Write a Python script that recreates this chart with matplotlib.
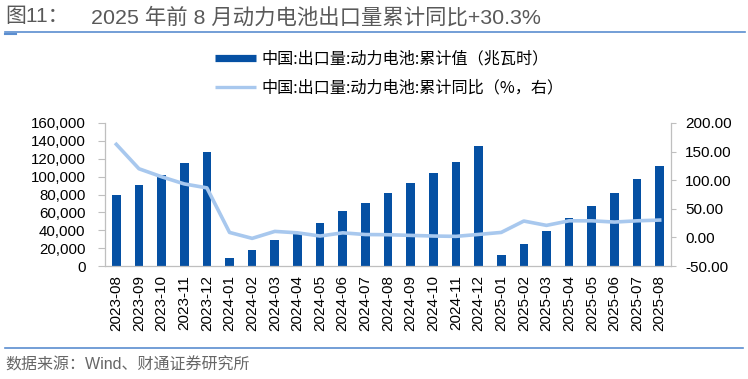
import matplotlib
matplotlib.use("Agg")
import matplotlib.pyplot as plt
from matplotlib.ticker import FuncFormatter, MultipleLocator
from matplotlib.lines import Line2D
import numpy as np

months = ["2023-08", "2023-09", "2023-10", "2023-11", "2023-12",
          "2024-01", "2024-02", "2024-03", "2024-04", "2024-05", "2024-06",
          "2024-07", "2024-08", "2024-09", "2024-10", "2024-11", "2024-12",
          "2025-01", "2025-02", "2025-03", "2025-04", "2025-05", "2025-06",
          "2025-07", "2025-08"]
cum_value = [79200, 90300, 101900, 115200, 127800,
             9300, 17400, 29300, 37400, 47800, 61100,
             70400, 81500, 93300, 104100, 116300, 134400,
             12200, 24800, 38900, 53300, 66700, 82200,
             97000, 112200]
cum_yoy = [162.7, 120.0, 106.0, 93.5, 86.6,
           8.7, -1.7, 10.5, 8.0, 2.4, 8.0,
           5.0, 4.7, 3.5, 2.4, 1.8, 5.2,
           8.7, 28.6, 21.0, 29.0, 29.0, 26.8,
           29.0, 30.3]

title_prefix = "图11："
title = "2025 年前 8 月动力电池出口量累计同比+30.3%"
source = "数据来源：Wind、财通证券研究所"
label_bar = "中国:出口量:动力电池:累计值（兆瓦时）"
label_line = "中国:出口量:动力电池:累计同比（%，右）"

FAM = ["Liberation Sans", "Noto Sans CJK SC", "DejaVu Sans"]
plt.rcParams["font.family"] = FAM

BAR_C = "#0550A3"
LINE_C = "#A8C8EE"
SPINE_C = "#BFBFBF"
RULE_C = "#5B8ED0"

W, H = 748, 379
fig = plt.figure(figsize=(W / 100, H / 100), dpi=100)

left, right, top, bottom = 105, 671, 123, 266
ax = fig.add_axes([left / W, 1 - bottom / H, (right - left) / W, (bottom - top) / H])
x = np.arange(len(months))
ax.bar(x, cum_value, width=0.38, color=BAR_C, zorder=2)
ax.set_xlim(-0.5, len(months) - 0.5)
ax.set_ylim(0, 160000)
ax.yaxis.set_major_locator(MultipleLocator(20000))
ax.yaxis.set_major_formatter(FuncFormatter(lambda v, p: f"{int(v):,}"))
ax.set_xticks(x)
ax.set_xticklabels(months, rotation=90, fontsize=11)
ax.tick_params(axis="x", length=0, pad=6.5)
ax.tick_params(axis="y", labelsize=10.8, length=5, color=SPINE_C, pad=9)

ax2 = ax.twinx()
ax2.plot(x, cum_yoy, color=LINE_C, lw=2.6, zorder=3)
ax2.set_ylim(-50, 200)
ax2.yaxis.set_major_locator(MultipleLocator(50))
ax2.yaxis.set_major_formatter(FuncFormatter(lambda v, p: f"{v:.2f}"))
ax2.tick_params(axis="y", labelsize=11, length=3.6, color=SPINE_C, pad=6.5)

for a in (ax, ax2):
    a.spines["top"].set_visible(False)
    for s in ("left", "right", "bottom"):
        a.spines[s].set_color(SPINE_C)
        a.spines[s].set_linewidth(0.9)
ax.spines["right"].set_visible(False)
ax2.spines["left"].set_visible(False)
ax2.spines["bottom"].set_visible(False)

# legend
handles = [Line2D([0], [0], color=BAR_C, lw=5.2, solid_capstyle="butt"),
           Line2D([0], [0], color=LINE_C, lw=2.4, solid_capstyle="butt")]
fig.legend(handles, [label_bar, label_line], loc="upper left",
           bbox_to_anchor=(209 / W, 1 - 44 / H), frameon=False,
           handlelength=2.5, handletextpad=0.35, labelspacing=0.75,
           borderaxespad=0,
           prop={"family": ["Noto Sans CJK SC"], "size": 11.6})

# title and rules
fig.text(5 / W, 1 - 17 / H, title_prefix, fontsize=15, color="#595959",
         va="center", ha="left", family=FAM)
fig.text(91 / W, 1 - 17 / H, title, fontsize=15.4, color="#595959",
         va="center", ha="left", family=FAM)
fig.add_artist(Line2D([5 / W, 745 / W], [1 - 32 / H, 1 - 32 / H],
                      color=RULE_C, lw=1.2, transform=fig.transFigure))
fig.add_artist(Line2D([5 / W, 16 / W], [1 - 33.5 / H, 1 - 33.5 / H],
                      color=RULE_C, lw=1.5, transform=fig.transFigure))
fig.add_artist(Line2D([5 / W, 743 / W], [1 - 348 / H, 1 - 348 / H],
                      color=RULE_C, lw=1.2, transform=fig.transFigure))
fig.text(5 / W, 1 - 365 / H, source, fontsize=11.5, color="#666666",
         va="center", ha="left", family=FAM)

fig.savefig("out.png", dpi=100)
